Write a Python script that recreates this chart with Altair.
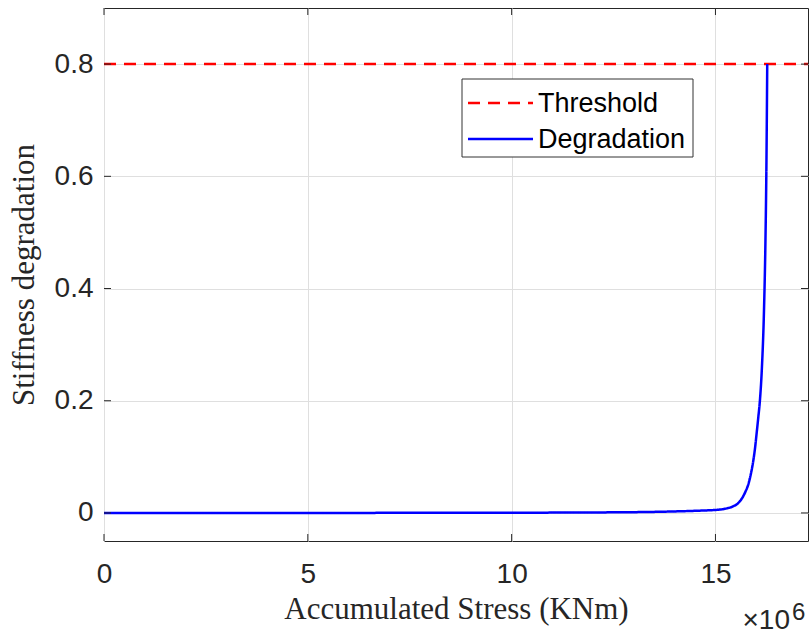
import altair as alt
import pandas as pd

# Degradation curve (accumulated stress in KNm, stiffness degradation)
deg_x = [0, 2e6, 4e6, 6e6, 8e6, 10e6, 11e6, 12e6, 13e6, 13.5e6, 14e6, 14.5e6,
         15.1e6, 15.3e6, 15.44e6, 15.55e6, 15.65e6, 15.73e6, 15.81e6, 15.87e6,
         15.93e6, 15.97e6, 16.01e6, 16.05e6, 16.09e6, 16.14e6,
         16.19e6, 16.225e6, 16.25e6, 16.27e6]
deg_y = [0, 0, 0, 0.0001, 0.0002, 0.0004, 0.0006, 0.0009, 0.0014, 0.0019, 0.0027, 0.0038,
         0.006, 0.0085, 0.012, 0.017, 0.026, 0.037, 0.052, 0.07,
         0.094, 0.115, 0.142, 0.17, 0.2, 0.26,
         0.36, 0.48, 0.62, 0.8]

# Threshold line
thr_x = [0, 17.27e6]
thr_y = [0.8, 0.8]

series_names = ["Threshold", "Degradation"]
series_colors = ["#ff0000", "#0000ff"]
series_dash = [[12, 8], [1, 0]]

x_ticks = [0, 5e6, 10e6, 15e6]
y_ticks = [0, 0.2, 0.4, 0.6, 0.8]
x_domain = [0, 17.27e6]
y_domain = [-0.05, 0.9]

W, H = 704, 533
AX = "#262626"

df = pd.concat([
    pd.DataFrame({"x": thr_x, "y": thr_y, "series": "Threshold", "ord": 0}),
    pd.DataFrame({"x": deg_x, "y": deg_y, "series": "Degradation", "ord": 1}),
], ignore_index=True)

xs = alt.Scale(domain=x_domain, nice=False, zero=False)
ys = alt.Scale(domain=y_domain, nice=False, zero=False)

lines = alt.Chart(df).mark_line(strokeWidth=2.5, interpolate="monotone").encode(
    x=alt.X("x:Q", scale=xs,
            axis=alt.Axis(values=x_ticks, labelExpr="datum.value / 1000000",
                          title="Accumulated Stress (KNm)", grid=True, tickSize=0,
                          domain=False, labelPadding=19, titlePadding=6,
                          labelFlush=False)),
    y=alt.Y("y:Q", scale=ys,
            axis=alt.Axis(values=y_ticks, format="~g", title="Stiffness degradation",
                          grid=True, tickSize=0, domain=False, labelPadding=11,
                          titlePadding=14)),
    color=alt.Color("series:N",
                    scale=alt.Scale(domain=series_names, range=series_colors),
                    legend=None),
    strokeDash=alt.StrokeDash("series:N",
                              scale=alt.Scale(domain=series_names, range=series_dash),
                              legend=None),
    order=alt.Order("ord:Q"),
)

xt_df = pd.DataFrame({"v": x_ticks})
yt_df = pd.DataFrame({"v": y_ticks})

xt_bottom = alt.Chart(xt_df).mark_rule(color=AX, strokeWidth=1).encode(
    x=alt.X("v:Q", scale=xs), y=alt.value(H), y2=alt.value(H - 7))
xt_top = alt.Chart(xt_df).mark_rule(color=AX, strokeWidth=1).encode(
    x=alt.X("v:Q", scale=xs), y=alt.value(0), y2=alt.value(7))
yt_left = alt.Chart(yt_df).mark_rule(color=AX, strokeWidth=1).encode(
    y=alt.Y("v:Q", scale=ys), x=alt.value(0), x2=alt.value(7))
yt_right = alt.Chart(yt_df).mark_rule(color=AX, strokeWidth=1).encode(
    y=alt.Y("v:Q", scale=ys), x=alt.value(W), x2=alt.value(W - 7))

# Legend (drawn by hand, MATLAB style)
one = pd.DataFrame({"k": [0]})
leg_box = alt.Chart(one).mark_rect(fill="white", stroke="#333333", strokeWidth=1).encode(
    x=alt.value(358), x2=alt.value(589), y=alt.value(71), y2=alt.value(149))
leg_layers = [leg_box]
row_y = [95, 131]
for name, col, dash, ry in zip(series_names, series_colors, series_dash, row_y):
    ldf = pd.DataFrame({"label": [name]})
    leg_layers.append(
        alt.Chart(ldf).mark_rule(color=col, strokeWidth=2.5, strokeDash=dash).encode(
            x=alt.value(364), x2=alt.value(429), y=alt.value(ry)))
    leg_layers.append(
        alt.Chart(ldf).mark_text(font="Liberation Sans", fontSize=27, color="#000000",
                                 align="left", baseline="middle").encode(
            text="label:N", x=alt.value(434), y=alt.value(ry + 1)))

exp_df = pd.DataFrame({"t": ["\u00d710"], "s": ["6"]})
exp_base = alt.Chart(exp_df).mark_text(font="Liberation Sans", fontSize=28, color=AX,
                                       align="right", baseline="alphabetic").encode(
    text="t:N", x=alt.value(686), y=alt.value(621))
exp_sup = alt.Chart(exp_df).mark_text(font="Liberation Sans", fontSize=24, color=AX,
                                      align="left", baseline="alphabetic").encode(
    text="s:N", x=alt.value(688), y=alt.value(612))

chart = alt.layer(
    lines, xt_bottom, xt_top, yt_left, yt_right, *leg_layers, exp_base, exp_sup
).resolve_scale(x="shared", y="shared").properties(
    width=W, height=H,
    autosize=alt.AutoSizeParams(type="none"),
    padding={"left": 104, "top": 8, "right": 1, "bottom": 91},
    background="white",
).configure_view(
    stroke=AX, strokeWidth=1
).configure_axis(
    labelFont="Liberation Sans", labelFontSize=28, labelColor=AX,
    titleFont="Liberation Serif", titleFontSize=31, titleFontWeight="normal",
    titleColor=AX, gridColor="#dfdfdf", gridWidth=1,
)

chart.save("out.html", embed_options={"renderer": "svg", "actions": False})
